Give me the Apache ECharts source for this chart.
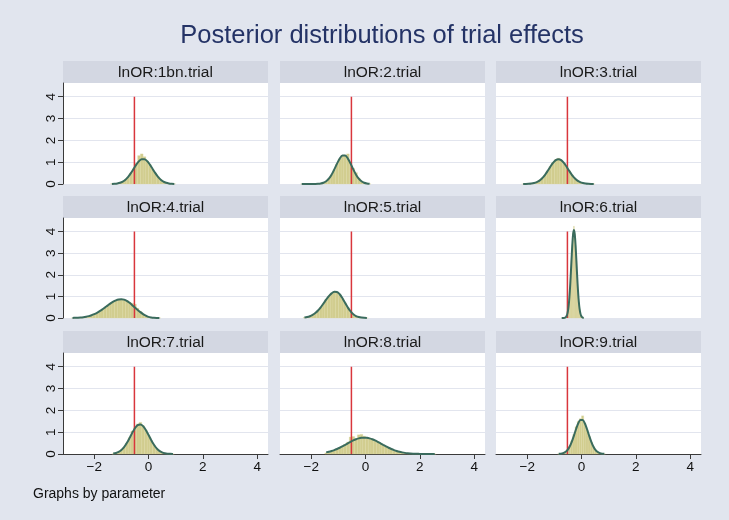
<!DOCTYPE html>
<html><head><meta charset="utf-8">
<script src="https://cdn.jsdelivr.net/npm/echarts@6/dist/echarts.min.js"></script>
<style>html,body{margin:0;padding:0;background:#e1e5ee}#c{width:729px;height:520px}</style>
</head><body><div id="c"></div>
<script>
// ---- data ----
const panelTitles = ['lnOR:1bn.trial','lnOR:2.trial','lnOR:3.trial','lnOR:4.trial','lnOR:5.trial','lnOR:6.trial','lnOR:7.trial','lnOR:8.trial','lnOR:9.trial'];
const refLineX = -0.52;
const refLineTop = 4;
const xTicks = [-2, 0, 2, 4];
const yTicks = [0, 1, 2, 3, 4];
const binStart = [-1.35, -2.35, -2.15, -2.8, -2.25, -0.73, -1.3, -1.45, -0.84];
const binStep  = [0.1, 0.1, 0.1, 0.1, 0.1, 0.03, 0.1, 0.1, 0.08];

const curve1 = [0.005,0.012,0.027,0.057,0.111,0.199,0.328,0.496,0.691,0.887,1.048,1.138,1.138,1.048,0.887,0.691,0.496,0.328,0.199,0.111,0.057,0.027,0.012,0.005];
const hist1  = [0.01,0.02,0.03,0.06,0.11,0.2,0.32,0.5,0.7,0.95,1.3,1.38,1.25,1.05,0.88,0.68,0.5,0.33,0.2,0.11,0.06,0.03,0.01,0.005];
const curve2 = [0,0,0,0,0.001,0.003,0.009,0.024,0.058,0.126,0.246,0.429,0.668,0.933,1.165,1.302,1.302,1.165,0.933,0.668,0.429,0.246,0.126,0.058,0.024,0.009];
const hist2  = [0,0,0,0,0,0.005,0.01,0.02,0.05,0.12,0.24,0.42,0.66,0.92,1.15,1.3,1.33,1.38,0.98,0.72,0.52,0.27,0.12,0.05,0.02,0.005];
const curve3 = [0.001,0.003,0.008,0.019,0.042,0.084,0.154,0.262,0.411,0.593,0.79,0.968,1.094,1.14,1.094,0.968,0.79,0.593,0.411,0.262,0.154,0.084,0.042,0.019,0.008,0.003,0.001];
const hist3  = [0,0.005,0.01,0.02,0.04,0.08,0.15,0.25,0.4,0.6,0.8,0.98,1.12,1.18,1.1,0.95,0.8,0.6,0.42,0.26,0.15,0.08,0.04,0.02,0.008,0.003,0.001];
const curve4 = [0.005,0.009,0.015,0.024,0.038,0.059,0.088,0.126,0.177,0.239,0.314,0.398,0.49,0.584,0.674,0.754,0.816,0.856,0.87,0.85,0.792,0.703,0.596,0.482,0.372,0.27,0.18,0.11,0.05,0.025,0.012,0.005,0.002];
const hist4  = [0,0.005,0.01,0.02,0.03,0.05,0.08,0.12,0.17,0.23,0.3,0.39,0.48,0.58,0.67,0.75,0.81,0.85,0.86,0.84,0.8,0.74,0.68,0.64,0.45,0.3,0.19,0.11,0.05,0.025,0.01,0.005,0.002];
const curve5 = [0.024,0.046,0.083,0.142,0.229,0.347,0.496,0.668,0.848,1.013,1.141,1.211,1.206,1.10,0.916,0.695,0.481,0.304,0.175,0.092,0.044,0.019,0.008,0.003];
const hist5  = [0.02,0.04,0.08,0.14,0.22,0.34,0.49,0.66,0.85,1.02,1.15,1.22,1.2,1.08,0.9,0.7,0.48,0.3,0.17,0.09,0.04,0.02,0.008,0.003];
const curve6 = [0,0.0004,0.0015,0.005,0.014,0.038,0.092,0.203,0.41,0.753,1.261,1.924,2.67,3.375,3.884,4.07,3.884,3.375,2.67,1.924,1.261,0.753,0.41,0.203,0.092,0.038,0.014,0.005];
const hist6  = [0,0,0,0.005,0.015,0.04,0.09,0.2,0.4,0.75,1.25,1.9,2.7,3.4,3.95,4.25,3.9,3.35,2.65,1.9,1.25,0.75,0.4,0.2,0.09,0.04,0.015,0.005];
const curve7 = [0.021,0.048,0.098,0.184,0.317,0.502,0.728,0.969,1.182,1.323,1.357,1.278,1.103,0.873,0.634,0.423,0.258,0.144,0.074,0.035,0.015,0.006,0.002];
const hist7  = [0.01,0.04,0.09,0.18,0.3,0.5,0.75,1.05,1.2,1.38,1.45,1.3,1.1,0.86,0.62,0.41,0.25,0.13,0.07,0.03,0.01,0.005,0.002];
const curve8 = [0.074,0.101,0.136,0.179,0.23,0.287,0.352,0.42,0.49,0.558,0.621,0.674,0.715,0.741,0.75,0.741,0.715,0.674,0.621,0.558,0.49,0.42,0.352,0.287,0.23,0.179,0.136,0.101,0.074,0.052,0.036,0.025,0.016,0.01,0.007,0.004,0.003,0.002,0.001,0.001,0];
const hist8  = [0.05,0.08,0.12,0.16,0.22,0.28,0.36,0.45,0.55,0.78,0.8,0.7,0.88,0.9,0.82,0.76,0.72,0.68,0.6,0.55,0.48,0.41,0.34,0.28,0.22,0.17,0.13,0.1,0.07,0.05,0.035,0.025,0.015,0.01,0.007,0.004,0.003,0.002,0.001,0.001,0];
const curve9 = [0.006,0.016,0.039,0.089,0.182,0.336,0.56,0.844,1.147,1.408,1.56,1.56,1.408,1.147,0.844,0.56,0.336,0.182,0.089,0.039,0.016,0.006];
const hist9  = [0.005,0.015,0.04,0.09,0.19,0.35,0.6,0.9,1.25,1.5,1.62,1.75,1.42,1.12,0.82,0.55,0.33,0.18,0.09,0.04,0.015,0.005];

const curves = [curve1,curve2,curve3,curve4,curve5,curve6,curve7,curve8,curve9];
const hists  = [hist1,hist2,hist3,hist4,hist5,hist6,hist7,hist8,hist9];

// ---- layout & style ----
const FONT = '"Liberation Sans", Arial, Helvetica, sans-serif';
const colLeft = [63, 280, 496];
const colWidth = 205;
const rowTop = [83, 218, 353];
const rowHeight = [101, 100, 101];
const stripH = 22;
const X_MIN = -3.15, X_MAX = 4.4, Y_MAX = 4.63;

const grid = [], xAxis = [], yAxis = [], series = [], graphic = [];

graphic.push({type:'text', silent:true,
  style:{text:'Posterior distributions of trial effects', font:'25.5px ' + FONT, fill:'#243366', x:382, y:36, textAlign:'center', textVerticalAlign:'middle'}});
graphic.push({type:'text', silent:true,
  style:{text:'Graphs by parameter', font:'14px ' + FONT, fill:'#111', x:33, y:494, textVerticalAlign:'middle'}});

for (let i = 0; i < 9; i++) {
  const r = Math.floor(i / 3), c = i % 3;
  grid.push({left: colLeft[c], top: rowTop[r], width: colWidth, height: rowHeight[r],
    show: true, backgroundColor: '#ffffff', borderWidth: 0, containLabel: false});
  graphic.push({type:'rect', shape:{x: colLeft[c], y: rowTop[r] - stripH, width: colWidth, height: stripH},
    style:{fill:'#d3d7e2'}, silent:true});
  graphic.push({type:'text', style:{text: panelTitles[i], font:'15.5px ' + FONT, fill:'#1a1a1a',
    x: colLeft[c] + colWidth / 2, y: rowTop[r] - stripH / 2 + 1, textAlign:'center', textVerticalAlign:'middle'}, silent:true});

  const bottomRow = r === 2, leftCol = c === 0;
  xAxis.push({gridIndex:i, type:'value', min:X_MIN, max:X_MAX,
    axisLine:{show:bottomRow, onZero:false, lineStyle:{color:'#3a3a3a', width:1}},
    axisTick:{show:bottomRow, customValues:xTicks, length:5, lineStyle:{color:'#3a3a3a'}},
    axisLabel:{show:bottomRow, customValues:xTicks, margin:6, fontSize:13.5, fontFamily:FONT, color:'#111',
      formatter: v => String(v).replace('-', '\u2212')},
    splitLine:{show:false}});
  yAxis.push({gridIndex:i, type:'value', min:0, max:Y_MAX, interval:1,
    axisLine:{show:leftCol, onZero:false, lineStyle:{color:'#3a3a3a', width:1}},
    axisTick:{show:leftCol, customValues:yTicks, length:5, lineStyle:{color:'#3a3a3a'}},
    axisLabel:{show:leftCol, customValues:yTicks, rotate:90, margin:5, fontSize:13.5, fontFamily:FONT, color:'#111'},
    splitLine:{show:true, lineStyle:{color:'#e2e5ee', width:1}}});

  const step = binStep[i];
  const histData = hists[i].map((v, k) => [binStart[i] + k * step, v]);
  const curveData = curves[i].map((v, k) => [binStart[i] + k * step, v]);

  series.push({type:'custom', xAxisIndex:i, yAxisIndex:i, data:histData, encode:{x:0, y:1}, z:2, silent:true,
    renderItem: (params, api) => {
      const cx = api.value(0), v = api.value(1);
      const p0 = api.coord([cx - step / 2, 0]);
      const p1 = api.coord([cx + step / 2, v]);
      return {type:'rect', shape:{x:p0[0], y:p1[1], width:p1[0] - p0[0], height:p0[1] - p1[1]},
        style:{fill:'#d1cd8f', stroke:'#d9d59f', lineWidth:0.3}};
    }});
  series.push({type:'line', xAxisIndex:i, yAxisIndex:i, data:[[refLineX, 0], [refLineX, refLineTop]],
    symbol:'none', z:3, silent:true, lineStyle:{color:'#d9363c', width:1.5}});
  series.push({type:'line', xAxisIndex:i, yAxisIndex:i, data:curveData, smooth:0.3,
    symbol:'none', z:4, silent:true, lineStyle:{color:'#3a6b5d', width:2}});
}

const chart = echarts.init(document.getElementById('c'), null, {renderer:'canvas'});
chart.setOption({
  backgroundColor:'#e1e5ee',
  animation:false,
  grid, xAxis, yAxis, series, graphic
});
</script>
</body></html>
